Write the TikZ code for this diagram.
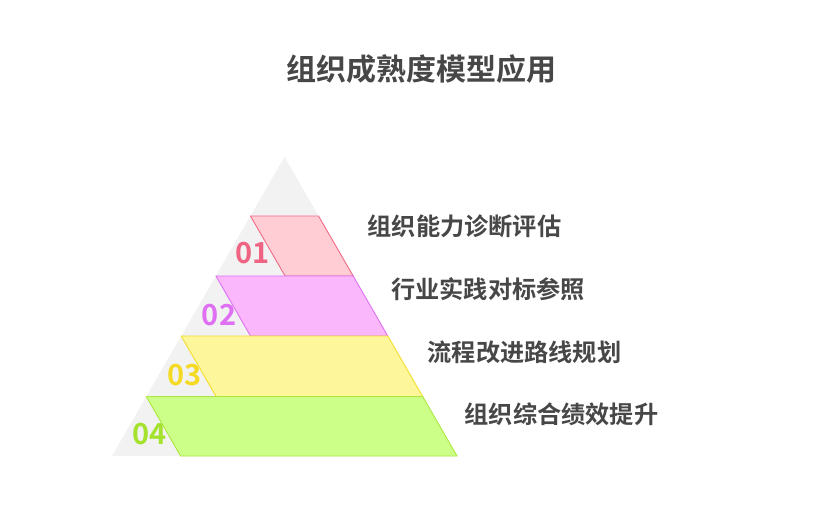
\documentclass[tikz,border=0pt]{standalone}
\usepackage{fontspec}
\setmainfont{Noto Sans CJK SC}[BoldFont={Noto Sans CJK SC Bold}]
\definecolor{txtgray}{HTML}{474747}
\definecolor{trigray}{HTML}{F2F2F2}
\definecolor{pinkfill}{HTML}{FFCDD3}
\definecolor{pinkline}{HTML}{F06A88}
\definecolor{pinknum}{HTML}{EE6482}
\definecolor{magfill}{HTML}{FBB7FB}
\definecolor{magline}{HTML}{DC72F2}
\definecolor{magnum}{HTML}{E070F2}
\definecolor{yelfill}{HTML}{FDF69B}
\definecolor{yelline}{HTML}{F4DE2C}
\definecolor{yelnum}{HTML}{F5DA24}
\definecolor{grnfill}{HTML}{CCFF88}
\definecolor{grnline}{HTML}{ADE63E}
\definecolor{grnnum}{HTML}{A4E22E}
\begin{document}
\begin{tikzpicture}[x=1pt,y=-1pt,
  lbl/.style={anchor=west,inner sep=0pt,text=txtgray,font=\fontsize{24.2}{26}\selectfont\bfseries},
  num/.style={inner sep=0pt,font=\fontsize{29}{30}\selectfont\bfseries},
  band/.style={line width=0.9pt,line join=round}]
\useasboundingbox[fill=white] (0,0) rectangle (836,523);
\node[inner sep=0pt,text=txtgray,font=\fontsize{30}{32}\selectfont\bfseries] (title) at (421,69) {组织成熟度模型应用};
\fill[trigray] (284.5,157) -- (457,456) -- (112,456) -- cycle;
\node[num,text=pinknum] (n1) at (252.5,253.5) {01};
\node[num,text=magnum] (n2) at (219,315) {02};
\node[num,text=yelnum] (n3) at (184.5,375) {03};
\node[num,text=grnnum] (n4) at (149.5,434) {04};
\draw[band,fill=pinkfill,draw=pinkline] (250.5,216) -- (318.5,216) -- (353.2,276) -- (285.1,276) -- cycle;
\draw[band,fill=magfill,draw=magline] (215.9,276) -- (353.2,276) -- (387.8,336) -- (250.5,336) -- cycle;
\draw[band,fill=yelfill,draw=yelline] (181.2,336) -- (387.8,336) -- (422.7,396.5) -- (216.1,396.5) -- cycle;
\draw[band,fill=grnfill,draw=grnline] (146.3,396.5) -- (422.7,396.5) -- (457,456) -- (180.6,456) -- cycle;
\node[lbl] (l1) at (367.5,226.5) {组织能力诊断评估};
\node[lbl] (l2) at (391,289) {行业实践对标参照};
\node[lbl] (l3) at (427.5,352.5) {流程改进路线规划};
\node[lbl] (l4) at (464.5,414) {组织综合绩效提升};
\end{tikzpicture}
\end{document}
